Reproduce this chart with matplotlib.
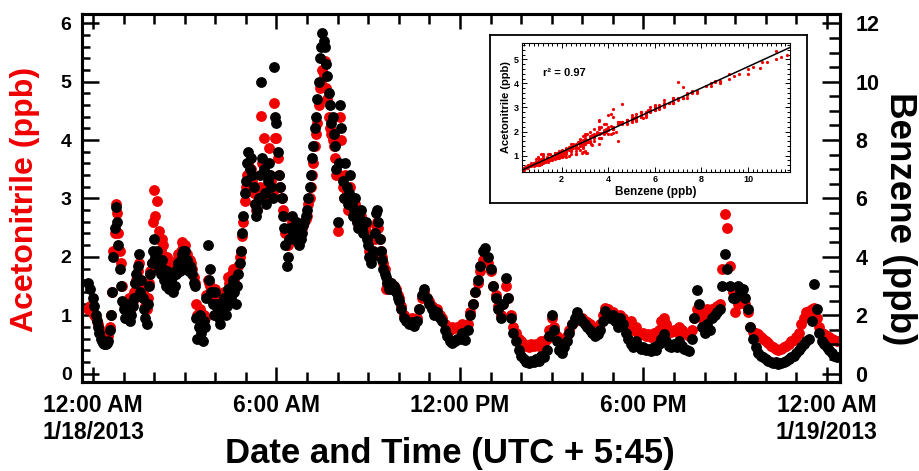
import numpy as np
import matplotlib
matplotlib.use("Agg")
import matplotlib.pyplot as plt
from matplotlib.ticker import MultipleLocator, FixedLocator, FixedFormatter

plt.rcParams.update({
    "font.family": "Liberation Sans",
    "font.weight": "bold",
    "axes.labelweight": "bold",
})

RED = "#f00000"

# 5-minute samples, first one at 23:50 on 1/17 (hours relative to midnight)
t_start = -10 / 60.0
t_step = 5 / 60.0

# one row per clock hour (first row 23:50-23:55, last row 00:00-00:20)
acetonitrile = [  # ppb
    1.10, 1.15,
    1.05, 0.95, 0.85, 0.70, 0.62, 0.60, 0.65, 1.00, 2.10, 2.90, 2.40, 1.90,
    1.20, 1.10, 1.30, 1.15, 1.40, 1.60, 1.90, 1.60, 1.30, 1.10, 1.55, 1.90,
    3.15, 2.95, 2.45, 2.30, 2.00, 2.00, 1.80, 1.85, 1.70, 1.95, 1.90, 2.25,
    2.20, 2.05, 1.95, 1.80, 1.55, 1.00, 1.10, 0.80, 0.95, 1.60, 1.50, 1.25,
    1.45, 1.25, 1.05, 1.35, 1.25, 1.65, 1.50, 1.80, 1.50, 1.85, 2.10, 2.60,
    3.20, 3.60, 3.50, 3.10, 2.80, 3.00, 4.41, 4.04, 3.00, 3.87, 3.30, 4.64,
    4.04, 3.40, 3.00, 2.70, 2.20, 2.40, 2.60, 2.40, 2.50, 2.30, 2.50, 2.60,
    2.70, 3.00, 3.40, 3.90, 4.30, 4.90, 5.20, 5.35, 4.70, 4.20, 4.00, 3.70,
    2.45, 4.40, 3.20, 3.40, 2.80, 3.20, 2.80, 2.90, 2.60, 2.70, 2.50, 2.55,
    2.30, 2.00, 2.10, 2.55, 2.50, 2.10, 1.90, 1.45, 1.50, 1.55, 1.50, 1.45,
    1.30, 1.15, 1.00, 0.95, 0.92, 0.95, 0.90, 0.95, 1.10, 1.30, 1.40, 1.30,
    1.25, 1.15, 1.05, 1.10, 1.00, 0.95, 0.85, 0.80, 0.75, 0.80, 0.78, 0.80,
    0.80, 0.85, 0.75, 0.85, 1.05, 1.20, 1.40, 1.55, 1.75, 1.95, 2.00, 1.90,
    1.75, 1.50, 1.35, 1.15, 1.00, 1.20, 1.50, 1.30, 1.00, 0.80, 0.70, 0.60,
    0.55, 0.50, 0.48, 0.45, 0.50, 0.47, 0.50, 0.48, 0.55, 0.52, 0.60, 0.75,
    0.95, 0.80, 0.65, 0.55, 0.55, 0.60, 0.65, 0.75, 0.85, 0.90, 1.00, 0.95,
    0.95, 0.90, 0.88, 0.85, 0.80, 0.75, 0.78, 0.85, 1.00, 1.13, 1.10, 1.05,
    1.05, 0.95, 0.90, 1.00, 0.95, 0.85, 0.85, 0.90, 0.75, 0.80, 0.70, 0.68,
    0.70, 0.65, 0.68, 0.62, 0.70, 0.65, 0.75, 0.90, 0.96, 0.85, 0.75, 0.72,
    0.75, 0.72, 0.80, 0.75, 0.70, 0.68, 0.65, 0.75, 0.95, 1.10, 1.05, 0.95,
    1.05, 1.10, 1.05, 1.10, 1.13, 1.15, 1.20, 1.80, 2.73, 2.50, 1.85, 1.40,
    1.05, 1.20, 1.25, 1.30, 1.20, 1.05, 0.80, 0.72, 0.70, 0.68, 0.62, 0.60,
    0.55, 0.52, 0.48, 0.45, 0.42, 0.40, 0.42, 0.45, 0.48, 0.50, 0.55, 0.58,
    0.62, 0.70, 0.85, 0.95, 1.05, 1.07, 1.10, 1.13, 0.95, 0.80, 0.70, 0.68,
    0.65, 0.62, 0.60, 0.58, 0.55,
]

benzene = [  # ppb
    3.10, 2.90,
    2.60, 2.00, 1.60, 1.20, 1.04, 1.00, 1.10, 2.00, 4.00, 5.70, 4.40, 3.00,
    2.20, 1.90, 2.40, 2.00, 2.60, 3.40, 4.10, 3.20, 2.20, 1.70, 3.00, 3.80,
    4.60, 4.20, 3.60, 3.90, 3.20, 3.50, 2.90, 3.30, 3.00, 3.60, 3.50, 4.10,
    4.20, 3.90, 3.70, 3.40, 3.00, 1.20, 2.00, 1.10, 1.60, 4.40, 3.60, 2.40,
    2.80, 2.20, 1.70, 2.40, 2.00, 2.90, 2.60, 3.20, 2.40, 3.40, 4.20, 5.40,
    6.60, 7.60, 7.40, 6.40, 5.40, 6.00, 9.98, 7.00, 5.80, 7.20, 6.40, 10.52,
    8.60, 6.80, 6.00, 5.00, 3.70, 4.60, 5.40, 4.60, 5.00, 4.40, 4.80, 5.20,
    5.60, 6.40, 7.40, 8.40, 9.40, 10.80, 11.66, 11.20, 10.20, 9.20, 8.80, 7.80,
    5.20, 9.20, 6.60, 7.20, 5.80, 6.80, 5.40, 6.00, 5.00, 5.60, 4.80, 5.20,
    4.40, 3.80, 4.20, 5.50, 5.20, 4.20, 3.60, 3.30, 2.90, 3.10, 3.00, 2.80,
    2.50, 2.20, 1.90, 1.80, 1.70, 1.76, 1.64, 1.80, 2.20, 2.70, 2.90, 2.60,
    2.40, 2.20, 2.00, 2.10, 1.90, 1.80, 1.50, 1.30, 1.10, 1.04, 1.10, 1.20,
    1.20, 1.40, 1.16, 1.50, 2.00, 2.40, 2.80, 3.20, 3.70, 4.20, 4.32, 4.00,
    3.60, 3.00, 2.60, 2.20, 1.90, 2.40, 3.28, 2.60, 1.90, 1.40, 1.10, 0.80,
    0.60, 0.50, 0.40, 0.36, 0.44, 0.40, 0.50, 0.44, 0.60, 0.56, 0.80, 1.30,
    2.00, 1.50, 1.10, 0.80, 0.70, 0.90, 1.10, 1.40, 1.70, 1.90, 2.10, 1.90,
    1.80, 1.70, 1.60, 1.50, 1.40, 1.30, 1.36, 1.50, 1.80, 2.14, 2.00, 1.90,
    2.00, 1.80, 1.60, 1.90, 1.70, 1.40, 1.20, 1.00, 0.90, 1.10, 0.96, 0.84,
    0.90, 0.80, 0.84, 0.76, 0.90, 0.80, 1.00, 1.20, 1.36, 1.10, 0.96, 0.90,
    1.00, 0.90, 1.10, 0.96, 0.84, 0.80, 0.76, 1.20, 1.90, 2.88, 2.40, 1.60,
    1.40, 1.70, 1.50, 1.90, 2.00, 2.10, 2.20, 3.00, 4.10, 3.60, 3.00, 2.60,
    2.60, 3.00, 2.80, 2.90, 2.60, 2.20, 1.60, 1.20, 0.90, 0.70, 0.60, 0.56,
    0.50, 0.44, 0.40, 0.36, 0.40, 0.34, 0.36, 0.40, 0.44, 0.50, 0.56, 0.60,
    0.70, 0.80, 0.90, 1.00, 1.10, 1.20, 1.80, 3.06, 2.20, 1.40, 1.10, 1.00,
    0.90, 0.80, 0.70, 0.60, 0.56,
]

# extra samples in the busy morning (00:02:30 to 09:57:30, every 5 min)
t_start_am = 2.5 / 60.0

acetonitrile_am = [  # ppb
    1.00, 0.90, 0.78, 0.65, 0.60, 0.62, 0.80, 1.40, 2.40, 2.75, 2.10, 1.50,
    1.10, 1.20, 1.05, 1.25, 1.55, 1.75, 1.50, 1.40, 1.15, 1.30, 1.75, 2.60,
    2.70, 2.30, 2.10, 2.20, 1.85, 1.90, 1.75, 1.70, 1.90, 2.05, 2.10, 2.20,
    2.00, 1.90, 1.90, 1.65, 1.20, 1.00, 0.90, 1.00, 1.35, 1.55, 1.45, 1.20,
    1.35, 1.15, 1.20, 1.40, 1.35, 1.55, 1.70, 1.60, 1.70, 2.00, 2.35, 2.95,
    3.40, 3.30, 3.30, 2.90, 2.80, 3.20, 3.60, 3.10, 3.20, 3.40, 3.10, 4.04,
    3.70, 3.20, 2.80, 2.40, 2.20, 2.50, 2.50, 2.60, 2.40, 2.40, 2.55, 2.65,
    2.90, 3.20, 3.60, 4.10, 4.60, 5.00, 5.10, 4.90, 4.40, 4.10, 3.90, 3.40,
    3.40, 4.00, 3.00, 3.10, 3.00, 2.90, 2.80, 2.60, 2.70, 2.55, 2.60, 2.40,
    2.10, 2.05, 2.30, 2.60, 2.30, 2.00, 1.80, 1.55, 1.55, 1.50, 1.45, 1.35,
]

benzene_am = [  # ppb
    2.30, 1.80, 1.40, 1.10, 1.00, 1.04, 1.50, 2.80, 5.00, 5.20, 3.60, 2.50,
    1.90, 2.20, 1.80, 2.30, 3.10, 3.70, 2.80, 2.60, 1.90, 2.40, 3.40, 4.20,
    4.00, 3.80, 3.40, 3.60, 3.00, 3.10, 3.20, 2.80, 3.40, 3.80, 3.90, 4.20,
    3.80, 3.50, 3.60, 3.10, 1.90, 1.60, 1.40, 1.80, 2.60, 3.20, 2.80, 2.00,
    2.40, 1.90, 2.10, 2.60, 2.30, 2.70, 3.00, 2.80, 3.00, 3.80, 4.80, 6.20,
    7.20, 7.00, 6.80, 5.80, 5.60, 6.80, 7.40, 6.20, 6.60, 6.80, 6.00, 8.80,
    7.60, 6.40, 5.40, 4.40, 4.00, 5.00, 4.80, 5.20, 4.50, 4.60, 5.10, 5.40,
    6.00, 6.80, 7.80, 8.80, 10.00, 11.20, 11.40, 10.60, 9.60, 8.60, 8.20, 7.00,
    7.20, 8.40, 6.00, 6.40, 6.20, 5.80, 5.60, 5.20, 5.40, 5.00, 5.20, 4.60,
    4.00, 4.00, 4.80, 5.60, 4.60, 3.90, 3.40, 3.10, 3.00, 2.90, 2.90, 2.60,
]

tick_hours = [0, 6, 12, 18, 24]
tick_labels = ["12:00 AM\n1/18/2013", "6:00 AM", "12:00 PM", "6:00 PM",
               "12:00 AM\n1/19/2013"]
r2_text = "r\u00b2 = 0.97"

acn = np.array(acetonitrile + acetonitrile_am)
bz = np.array(benzene + benzene_am)
hours = np.concatenate([
    t_start + t_step * np.arange(len(acetonitrile)),
    t_start_am + t_step * np.arange(len(acetonitrile_am)),
])

fig = plt.figure(figsize=(9.2, 4.71), dpi=100)
ax = fig.add_axes([82 / 920, 1 - 382 / 471, 758 / 920, 368 / 471])
ax2 = ax.twinx()

ax.plot(hours, acn, "o", color=RED, ms=7.8, mec="none")
ax2.plot(hours, bz, "o", color="black", ms=7.8, mec="none")

ax.set_xlim(-0.36, 24.43)
ax.set_ylim(-0.144, 6.16)
ax2.set_ylim(-0.288, 12.32)

ax.xaxis.set_major_locator(FixedLocator(tick_hours))
ax.xaxis.set_major_formatter(FixedFormatter(tick_labels))
ax.xaxis.set_minor_locator(MultipleLocator(1))
ax.yaxis.set_major_locator(MultipleLocator(1))
ax.yaxis.set_minor_locator(MultipleLocator(0.2))
ax2.yaxis.set_major_locator(MultipleLocator(2))
ax2.yaxis.set_minor_locator(MultipleLocator(0.5))

ax.tick_params(axis="x", which="both", direction="in", top=True, width=1.8,
               pad=9, labelsize=16.5)
ax.tick_params(axis="x", which="major", length=11)
ax.tick_params(axis="x", which="minor", length=7)
ax.tick_params(axis="y", which="both", direction="in", width=1.8, pad=7.5,
               labelsize=14)
ax.tick_params(axis="y", which="major", length=12)
ax.tick_params(axis="y", which="minor", length=6)
ax2.tick_params(axis="y", which="both", direction="in", width=1.8, pad=11,
                labelsize=15.5)
ax2.tick_params(axis="y", which="major", length=13)
ax2.tick_params(axis="y", which="minor", length=8)
for a in (ax, ax2):
    for s in a.spines.values():
        s.set_linewidth(2.2)

ax.set_ylabel("Acetonitrile (ppb)", color=RED, fontsize=23, va="center")
ax.yaxis.set_label_coords(-0.075, 0.497)
ax2.set_ylabel("Benzene (ppb)", fontsize=26.5, rotation=270, va="center")
ax2.yaxis.set_label_coords(1.078, 0.444)
ax.set_xlabel("Date and Time (UTC + 5:45)", fontsize=25, va="center")
ax.xaxis.set_label_coords(0.485, -0.193)

# inset: frame + scatter of acetonitrile vs benzene
box = fig.add_axes([490 / 920, 1 - 203 / 471, 317 / 920, 168 / 471])
box.set_xticks([])
box.set_yticks([])
for s in box.spines.values():
    s.set_linewidth(1.3)

ins = fig.add_axes([522 / 920, 1 - 172 / 471, 268 / 920, 129 / 471])
ins.plot(bz, acn, "o", color=RED, ms=2.3, mec="none")
fit = np.polyfit(bz, acn, 1)
xx = np.array([0.3, 11.8])
ins.plot(xx, np.polyval(fit, xx), "k-", lw=1.1)
ins.set_xlim(0.3, 11.8)
ins.set_ylim(0.32, 5.68)
ins.xaxis.set_major_locator(MultipleLocator(2))
ins.xaxis.set_minor_locator(MultipleLocator(0.2))
ins.yaxis.set_major_locator(MultipleLocator(1))
ins.yaxis.set_minor_locator(MultipleLocator(0.2))
ins.tick_params(which="both", direction="in", top=True, right=True,
                width=0.7, labelsize=6.5, pad=2.5)
ins.tick_params(which="major", length=3.5)
ins.tick_params(which="minor", length=2)
for s in ins.spines.values():
    s.set_linewidth(0.8)
ins.set_xlabel("Benzene (ppb)", fontsize=8.5, labelpad=1)
ins.set_ylabel("Acetonitrile (ppb)", fontsize=8, labelpad=2)
ins.text(0.08, 0.77, r2_text, transform=ins.transAxes, fontsize=8,
         va="center")

fig.savefig("out.png", dpi=100)
